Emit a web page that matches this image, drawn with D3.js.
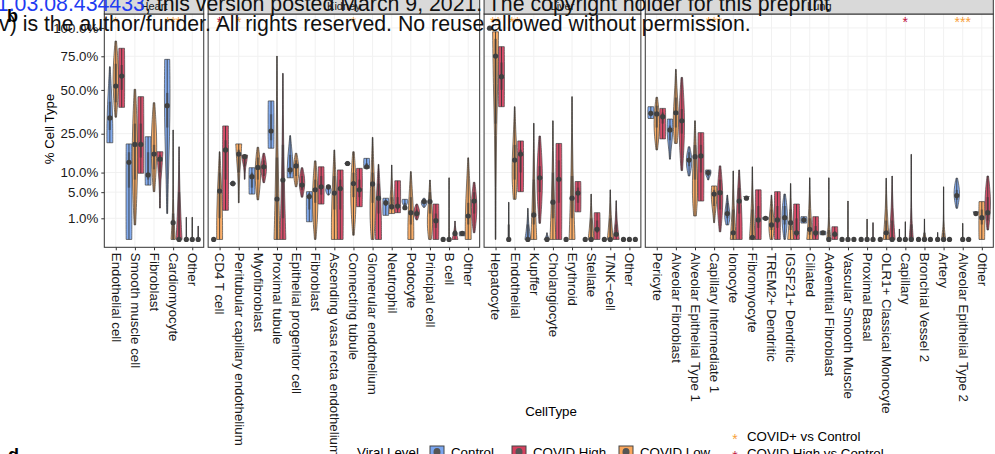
<!DOCTYPE html>
<html>
<head>
<meta charset="utf-8">
<script src="https://cdn.jsdelivr.net/npm/d3@7"></script>
<style>
  body { margin: 0; background: #fff; }
  svg { display: block; font-family: "Liberation Sans", Arial, Helvetica, sans-serif; }
</style>
</head>
<body>
<div id="chart-container"></div>
<script>
// ---- data (values in % of cells) ----
const tissues = ["Heart", "Kidney", "Liver", "Lung"];

const heartCells = ["Endothelial cell", "Smooth muscle cell", "Fibroblast", "Cardiomyocyte", "Other"];
const kidneyCells = ["CD4 T cell", "Peritubular capillary endothelium", "Myofibroblast", "Proximal tubule",
  "Epithelial progenitor cell", "Fibroblast", "Ascending vasa recta endothelium", "Connecting tubule",
  "Glomerular endothelium", "Neutrophil", "Podocyte", "Principal cell", "B cell", "Other"];
const liverCells = ["Hepatocyte", "Endothelial", "Kupffer", "Cholangiocyte", "Erythroid", "Stellate", "T/NK\u2212cell", "Other"];
const lungCells = ["Pericyte", "Alveolar Fibroblast", "Alveolar Epithelial Type 1", "Capillary Intermediate 1",
  "Ionocyte", "Fibromyocyte", "TREM2+ Dendritic", "IGSF21+ Dendritic", "Ciliated", "Adventitial Fibroblast",
  "Vascular Smooth Muscle", "Proximal Basal", "OLR1+ Classical Monocyte", "Capillary", "Bronchial Vessel 2",
  "Artery", "Alveolar Epithelial Type 2", "Other"];

// each row: [min, q1, median, q3, max, shape]
const heartControl = [[20.9, 26.8, 33, 42.4, 66.7, "B"], [0, 6, 13.3, 17, 20.4, "R"], [6.6, 8, 9.3, 17, 23.6, "R"],
  [1.5, 28, 40, 48, 72.5, "U"], [0, 0, 0, 0, 1.1, "L"]];
const heartLow = [[33.4, 42, 52.6, 69, 88, "D"], [0.47, 8, 20.2, 30, 50.4, "D"], [5.1, 11, 16.3, 20, 41.8, "D"],
  [0, 0, 0.63, 1.5, 26.8, "P"], [0, 0, 0, 0, 1.1, "L"]];
const heartHigh = [[39, 50, 59.7, 68, 81.7, "R"], [9.8, 15, 20.2, 30, 45.6, "R"], [2.2, 10, 14.4, 16, 17.2, "V"],
  [0, 0, 0, 5, 19.2, "T"], [0, 0, 0, 0, 0.4, "L"]];

const kidneyControl = [[0, 0, 0, 0, 0, "L"], [6.4, 6.8, 7, 7.3, 7.6, "D"], [4.6, 6, 8.8, 10, 11.5, "R"],
  [18.6, 22, 26.3, 35, 42.9, "R"], [8.5, 9.5, 10.8, 16, 24.1, "B"], [0.7, 2, 4.1, 4.8, 5.1, "R"],
  [4.4, 5.5, 6.2, 6.4, 6.6, "D"], [12.2, 12.7, 12.9, 13.2, 13.6, "D"], [11.3, 11.6, 11.8, 13, 14.7, "R"],
  [1.3, 2.5, 3, 3.5, 3.8, "R"], [2.2, 2.25, 2.25, 3, 3.6, "U"], [2.3, 2.8, 3.2, 3.5, 3.8, "D"],
  [0, 0, 0, 0, 0, "L"], [0.03, 0.06, 0.08, 0.1, 0.13, "R"]];
const kidneyLow = [[0, 1, 5.25, 10, 17.2, "B"], [3, 10, 16.3, 18, 20.4, "V"], [3.5, 8, 11.6, 15, 19, "D"],
  [0, 0, 3.66, 15, 75.2, "T"], [6.2, 9, 12.1, 14, 16.6, "D"], [0, 3, 5.5, 8, 13.8, "D"],
  [0, 2, 4.8, 9, 17.9, "B"], [0.04, 4, 7, 10, 17.2, "D"], [0, 3, 6.9, 10, 23.3, "M"],
  [1.5, 2, 2.4, 4, 12.4, "T"], [0, 0.5, 1.6, 4, 10.3, "B"], [0, 1.5, 3.2, 5, 7.9, "M"],
  [0, 0, 0, 0, 8.5, "L"], [0, 0.5, 1.23, 3, 14.9, "B"]];
const kidneyHigh = [[1.9, 8, 17.9, 22, 28.8, "R"], [8.1, 12, 15.3, 15.6, 15.9, "V"], [7.2, 9, 11.8, 14, 16.6, "D"],
  [0, 1, 7.9, 20, 61.7, "T"], [4, 5.5, 6.6, 9, 11.5, "D"], [2.8, 4.5, 6.2, 9, 11.8, "R"],
  [0, 2, 5.8, 8, 10.8, "R"], [2.4, 4, 5.5, 8, 11.3, "R"], [0, 1.5, 3.8, 7, 12.6, "B"],
  [1.6, 2, 2.5, 4, 7.7, "R"], [0.85, 1.2, 1.5, 2, 2.8, "D"], [0, 0.3, 0.79, 1.5, 2.8, "R"],
  [0, 0.03, 0.08, 0.2, 0.76, "T"], [0.1, 1.5, 3.3, 5, 7.3, "D"]];

const liverControl = [[98.5, 99.2, 99.8, 100, 100, "D"], [0, 0, 0, 0.5, 3.1, "L"], [0, 0, 0, 0.5, 2.17, "T"],
  [0, 0, 0, 0, 0.1, "T"], [0, 0, 0, 0, 0, "L"], [0, 0, 0, 0, 0, "L"], [0, 0, 0, 0, 0, "L"], [0, 0, 0, 0, 0, "L"]];
const liverLow = [[0, 30, 75.2, 90, 96.4, "V"], [3.6, 8, 14.1, 20, 39.4, "M"], [0, 0.5, 1.34, 8, 30.2, "T"],
  [0, 1, 3.1, 10, 31.5, "T"], [0, 1, 3.8, 9, 45.6, "T"], [0, 0, 0, 1, 4.6, "T"], [0, 0, 0, 1, 5.5, "T"],
  [0, 0, 0, 0, 0, "L"]];
const liverHigh = [[39.4, 50, 59.2, 70, 83.1, "R"], [5.1, 10, 16.3, 18, 21.7, "R"], [0.58, 5, 8.5, 12, 23.9, "D"],
  [0, 3, 8.1, 14, 20.6, "R"], [1.7, 3, 4.8, 6, 7.5, "R"], [0, 0.1, 0.23, 0.8, 1.6, "R"],
  [0, 0.03, 0.06, 0.5, 3.36, "T"], [0, 0, 0, 0, 0, "L"]];

const lungControl = [[32.7, 34, 35.6, 37, 39.4, "R"], [14.4, 22, 26.8, 29, 32.4, "U"], [9, 12, 14.1, 17, 19.2, "D"],
  [7.9, 9, 10, 10.4, 10.8, "U"], [0.47, 1, 1.5, 3, 4.4, "M"], [3.5, 3.6, 3.8, 4, 4.1, "V"],
  [0.9, 0.95, 1, 1.05, 1.1, "R"], [0, 0.5, 1.06, 2.5, 4.6, "D"], [0.6, 0.75, 0.85, 1, 1.16, "R"],
  [0.05, 0.08, 0.1, 0.12, 0.15, "R"], [0, 0, 0, 0, 0, "L"], [0, 0, 0, 0, 0, "L"], [0, 0, 0, 0, 0, "L"],
  [0, 0, 0, 0, 0.24, "L"], [0, 0, 0, 0, 0, "L"], [0, 0, 0, 0, 0.11, "L"], [2.17, 3.5, 4.3, 5.5, 8.4, "D"],
  [1.3, 1.4, 1.5, 1.6, 1.7, "V"]];
const lungLow = [[17.9, 28, 35.2, 40, 45.2, "D"], [20.6, 28, 35.9, 45, 64.7, "M"], [1.23, 8, 15.3, 20, 31.5, "M"],
  [0.63, 2.5, 4.6, 5.5, 6.4, "U"], [0, 0, 0.1, 2, 10.5, "T"], [0, 0, 0.01, 2, 11.8, "T"],
  [0, 0.2, 0.47, 2, 4.4, "M"], [0, 0.2, 0.63, 2, 7, "T"], [0, 0.05, 0.23, 1, 8.5, "T"],
  [0, 0, 0, 0.2, 8.5, "P"], [0, 0, 0, 0, 3.3, "L"], [0, 0, 0, 0, 0.93, "L"], [0, 0, 0.1, 0.8, 8.4, "T"],
  [0, 0, 0, 0, 0.7, "L"], [0, 0, 0, 0.1, 0.94, "P"], [0, 0, 0, 0.1, 6.2, "P"], [0, 0, 0, 0, 0.58, "L"],
  [0, 0.5, 1.06, 2, 3.2, "R"]];
const lungHigh = [[22.6, 30, 33.7, 36, 38.4, "R"], [10.6, 25, 31.5, 38, 58.7, "D"], [3.3, 10, 15.6, 20, 25.5, "R"],
  [0.13, 2, 4.9, 8, 12.1, "D"], [0, 1.5, 3.3, 6, 10.8, "B"], [0, 0.3, 0.85, 2.5, 5.5, "R"],
  [0, 0.3, 0.85, 2.5, 5.1, "R"], [0, 0.02, 0.1, 1, 2.8, "R"], [0, 0.02, 0.1, 0.4, 1.16, "R"],
  [0, 0.03, 0.06, 0.15, 0.36, "R"], [0, 0, 0, 0, 0, "L"], [0, 0, 0, 0, 0.63, "L"], [0, 0, 0, 0.8, 9, "T"],
  [0, 0, 0, 0.5, 16.2, "P"], [0, 0, 0, 0, 0, "L"], [0, 0, 0, 0, 0, "L"], [0, 0, 0, 0, 0, "L"],
  [0.2, 0.8, 1.6, 4, 9, "D"]];

// significance marks: [tissue, cell type, label, comparison]
const stars = [
  ["Heart", "Endothelial cell", "*", "pos"], ["Heart", "Cardiomyocyte", "***", "pos"],
  ["Kidney", "CD4 T cell", "*", "high"], ["Kidney", "Peritubular capillary endothelium", "*", "pos"],
  ["Kidney", "Connecting tubule", "*", "pos"], ["Liver", "Hepatocyte", "**", "pos"],
  ["Liver", "Endothelial", "**", "pos"], ["Lung", "Capillary Intermediate 1", "***", "pos"],
  ["Lung", "Capillary", "*", "high"], ["Lung", "Alveolar Epithelial Type 2", "***", "pos"]];

const yTicks = [1, 5, 10, 25, 50, 75, 100];
const groups = ["Control", "COVID High", "COVID Low"];   // legend order
const dodgeOrder = ["Control", "COVID Low", "COVID High"];

// ---- layout ----
const colors = { "Control": "#7aa6f0", "COVID High": "#d5405e", "COVID Low": "#faa75c" };
const starColors = { pos: "#f7a03a", high: "#c0163f" };
const shapes = {   // relative half-widths from bottom to top of each violin
  R: [0.95, 1, 1, 1, 0.95], D: [0.25, 0.75, 1, 0.75, 0.25], M: [0.45, 1, 0.75, 0.35, 0.1],
  U: [0.15, 0.4, 0.8, 1, 0.85], V: [0.12, 0.15, 0.3, 0.75, 1], B: [1, 1, 0.8, 0.45, 0.12],
  T: [1, 0.6, 0.3, 0.12, 0.05], P: [0.7, 0.15, 0.06, 0.05, 0.04], L: [0.12, 0.06, 0.05, 0.05, 0.05]
};
const tickFont = 13.3;

let cellsByTissue = [heartCells, kidneyCells, liverCells, lungCells],
    rowsByTissue = [
      { "Control": heartControl, "COVID Low": heartLow, "COVID High": heartHigh },
      { "Control": kidneyControl, "COVID Low": kidneyLow, "COVID High": kidneyHigh },
      { "Control": liverControl, "COVID Low": liverLow, "COVID High": liverHigh },
      { "Control": lungControl, "COVID Low": lungLow, "COVID High": lungHigh }];

let width = 995, height = 454,
    plotLeft = 104.3, plotRight = 993.3, panelTop = 14, panelBottom = 247.3, gap = 4.4,
    svg = d3.select("#chart-container").append("svg").attr("width", width).attr("height", height);

let y = d3.scaleSqrt().domain([0, 100]).range([239.45, 27.95]);

let totalUnits = d3.sum(cellsByTissue, c => c.length + 0.2),
    unit = (plotRight - plotLeft - gap * 3) / totalUnits,
    dodge = unit * 0.31, halfW = unit * 0.155;

let area = d3.area().curve(d3.curveBasis);

let x0 = plotLeft;
tissues.forEach((tissue, ti) => {
  let cells = cellsByTissue[ti],
      w = (cells.length + 0.2) * unit,
      x = d3.scalePoint().domain(cells).range([0.6 * unit, w - 0.6 * unit]),
      g = svg.append("g").attr("transform", `translate(${x0},0)`);

  // panel background + grid
  g.append("rect").attr("x", 0).attr("y", panelTop).attr("width", w).attr("height", panelBottom - panelTop)
    .attr("fill", "#fff");
  g.selectAll(".hgrid").data(yTicks).join("line")
    .attr("x1", 0).attr("x2", w).attr("y1", d => y(d)).attr("y2", d => y(d))
    .attr("stroke", "#f1f1f1").attr("stroke-width", 1);
  g.selectAll(".vgrid").data(cells).join("line")
    .attr("x1", d => x(d)).attr("x2", d => x(d)).attr("y1", panelTop).attr("y2", panelBottom)
    .attr("stroke", "#f1f1f1").attr("stroke-width", 1);

  // violins
  cells.forEach((cell, ci) => {
    dodgeOrder.forEach((grp, gi) => {
      let [lo, q1, med, q3, hi, shape] = rowsByTissue[ti][grp][ci],
          cx = x(cell) + (gi - 1) * dodge,
          yLo = y(lo), yHi = y(hi);

      if (hi > lo) {
        let pts = shapes[shape].map((s, k) => [yLo + (yHi - yLo) * k / 4, s * halfW]);
        g.append("path")
          .attr("d", area.y(d => d[0]).x0(d => cx - d[1]).x1(d => cx + d[1])(pts))
          .attr("fill", colors[grp]).attr("fill-opacity", 0.92)
          .attr("stroke", "#444").attr("stroke-opacity", 0.7).attr("stroke-width", 1);
        g.append("line")
          .attr("x1", cx).attr("x2", cx).attr("y1", yLo).attr("y2", yHi)
          .attr("stroke", "#333").attr("stroke-opacity", 0.85).attr("stroke-width", 1);
        g.append("rect")
          .attr("x", cx - 1.2).attr("width", 2.4)
          .attr("y", y(q3)).attr("height", Math.max(0, y(q1) - y(q3)))
          .attr("fill", "#3a3a3a").attr("fill-opacity", 0.55);
      }
      g.append("circle").attr("cx", cx).attr("cy", y(med)).attr("r", 2.6).attr("fill", "#404040");
    });
  });

  // border
  g.append("rect").attr("x", 0).attr("y", panelTop).attr("width", w).attr("height", panelBottom - panelTop)
    .attr("fill", "none").attr("stroke", "#333").attr("stroke-width", 1);

  // strip
  g.append("rect").attr("x", 0).attr("y", -3).attr("width", w).attr("height", panelTop + 3)
    .attr("fill", "#d9d9d9").attr("stroke", "#333").attr("stroke-width", 1);
  g.append("text").attr("x", w / 2).attr("y", 10).attr("text-anchor", "middle")
    .attr("font-size", 11).attr("fill", "#1a1a1a").text(tissue);

  // x axis
  g.append("g")
    .attr("transform", `translate(0,${panelBottom})`)
    .call(d3.axisBottom(x).tickSize(3))
    .call(a => a.select(".domain").remove())
    .call(a => a.selectAll("line").attr("stroke", "#333"))
    .call(a => a.selectAll("text")
      .attr("transform", "rotate(90)").attr("text-anchor", "start")
      .attr("x", 5.5).attr("y", 0).attr("dy", "0.35em")
      .attr("font-size", tickFont).attr("fill", "#1a1a1a").attr("font-family", null));

  // significance stars
  stars.filter(s => s[0] === tissue).forEach(s => {
    g.append("text").attr("x", x(s[1])).attr("y", 26.5).attr("text-anchor", "middle")
      .attr("font-size", 14).attr("fill", starColors[s[3]]).text(s[2]);
  });

  if (ti === 0) {
    g.append("g")
      .call(d3.axisLeft(y).tickValues(yTicks).tickFormat(d => d.toFixed(1) + "%").tickSize(3).tickPadding(3))
      .call(a => a.select(".domain").remove())
      .call(a => a.selectAll("line").attr("stroke", "#333"))
      .call(a => a.selectAll("text").attr("font-size", tickFont).attr("fill", "#1a1a1a").attr("font-family", null));
  }
  x0 += w + gap;
});

// axis titles
svg.append("text").attr("transform", "translate(54,129) rotate(-90)").attr("text-anchor", "middle")
  .attr("font-size", tickFont).text("% Cell Type");
svg.append("text").attr("x", 551).attr("y", 416).attr("text-anchor", "middle")
  .attr("font-size", tickFont).text("CellType");

// legend
let legend = svg.append("g");
legend.append("text").attr("x", 357).attr("y", 457).attr("font-size", tickFont).text("Viral Level");
[[430, "Control"], [512, "COVID High"], [619, "COVID Low"]].forEach(([lx, grp]) => {
  legend.append("rect").attr("x", lx).attr("y", 446).attr("width", 14).attr("height", 14)
    .attr("fill", colors[grp]).attr("stroke", "#444");
  legend.append("ellipse").attr("cx", lx + 7).attr("cy", 452).attr("rx", 3.5).attr("ry", 4).attr("fill", "#555");
  legend.append("text").attr("x", lx + 21).attr("y", 457).attr("font-size", tickFont).text(grp);
});
[["pos", "COVID+ vs Control", 441], ["high", "COVID High vs Control", 458]].forEach(([k, label, ly]) => {
  legend.append("text").attr("x", 735).attr("y", ly + 3).attr("text-anchor", "middle")
    .attr("font-size", 14).attr("fill", starColors[k]).text("*");
  legend.append("text").attr("x", 747).attr("y", ly).attr("font-size", tickFont).text(label);
});

// page overlay from the preprint
let head1 = svg.append("text").attr("x", -15).attr("y", 10.7).attr("font-size", 21.3);
head1.append("tspan").attr("fill", "#1f3cf2").text("21.03.08.434433");
head1.append("tspan").attr("fill", "#111").text("; this version posted March 9, 2021. The copyright holder for this preprint");
svg.append("text").attr("x", -1).attr("y", 30.5).attr("font-size", 21.3).attr("fill", "#111")
  .text("v) is the author/funder. All rights reserved. No reuse allowed without permission.");
svg.append("text").attr("x", 7).attr("y", 21.7).attr("font-size", 18).attr("font-weight", "bold").text("b");
svg.append("text").attr("x", 8).attr("y", 461).attr("font-size", 18).attr("font-weight", "bold").text("d");
</script>
</body>
</html>
